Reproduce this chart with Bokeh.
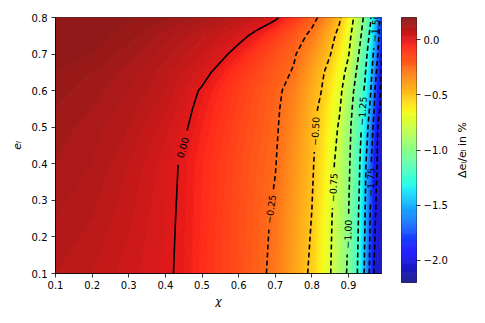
import math
import numpy as np
from bokeh.plotting import figure
from bokeh.plotting.contour import contour_data
from bokeh.models import ColumnDataSource, FixedTicker, Range1d, CustomJSTickFormatter
from bokeh.layouts import row
from bokeh.embed import file_html
from bokeh.resources import INLINE
from bokeh.core.properties import value

# ---------------- data ----------------
CHI = [0.1, 0.2, 0.3, 0.4, 0.45, 0.5, 0.55, 0.6, 0.65, 0.7, 0.75, 0.8, 0.825,
       0.85, 0.875, 0.9, 0.915, 0.93, 0.945, 0.96, 0.97, 0.98, 0.99]
E_L = [0.1, 0.25, 0.4, 0.5, 0.55, 0.6, 0.65, 0.7, 0.75, 0.8]

DE_E010 = [0.10, 0.08, 0.05, 0.015, -0.019, -0.068, -0.117, -0.166, -0.215, -0.283, -0.400, -0.530,
           -0.636, -0.742, -0.881, -1.033, -1.158, -1.309, -1.536, -1.813, -2.005, -2.052, -2.10]
DE_E025 = [0.12, 0.10, 0.065, 0.02, -0.016, -0.064, -0.113, -0.161, -0.209, -0.269, -0.386, -0.504,
           -0.614, -0.724, -0.858, -1.0, -1.134, -1.279, -1.5, -1.771, -1.979, -2.038, -2.08]
DE_E040 = [0.14, 0.12, 0.08, 0.03, -0.013, -0.059, -0.106, -0.152, -0.199, -0.245, -0.359, -0.481,
           -0.577, -0.691, -0.821, -0.970, -1.096, -1.240, -1.456, -1.714, -1.917, -2.023, -2.06]
DE_E050 = [0.15, 0.13, 0.10, 0.05, 0.012, -0.040, -0.088, -0.137, -0.185, -0.233, -0.334, -0.466,
           -0.551, -0.657, -0.771, -0.950, -1.067, -1.192, -1.368, -1.615, -1.813, -2.004, -2.04]
DE_E055 = [0.16, 0.14, 0.11, 0.065, 0.026, -0.028, -0.078, -0.127, -0.177, -0.227, -0.321, -0.453,
           -0.529, -0.631, -0.734, -0.919, -1.042, -1.167, -1.319, -1.542, -1.75, -1.958, -2.035]
DE_E060 = [0.17, 0.15, 0.12, 0.08, 0.04, -0.010, -0.063, -0.115, -0.167, -0.219, -0.302, -0.432,
           -0.497, -0.600, -0.704, -0.875, -1.009, -1.138, -1.278, -1.486, -1.705, -1.917, -2.03]
DE_E065 = [0.18, 0.16, 0.13, 0.09, 0.06, 0.03, -0.030, -0.086, -0.142, -0.198, -0.261, -0.400,
           -0.469, -0.560, -0.668, -0.806, -0.944, -1.087, -1.231, -1.431, -1.614, -1.841, -2.01]
DE_E070 = [0.19, 0.18, 0.15, 0.11, 0.085, 0.06, 0.025, -0.036, -0.101, -0.167, -0.233, -0.354,
           -0.424, -0.494, -0.615, -0.740, -0.875, -1.021, -1.177, -1.375, -1.542, -1.75, -2.0]
DE_E075 = [0.20, 0.19, 0.17, 0.13, 0.11, 0.085, 0.06, 0.03, -0.027, -0.107, -0.186, -0.282,
           -0.364, -0.445, -0.549, -0.701, -0.815, -0.954, -1.114, -1.300, -1.467, -1.682, -1.91]
DE_E080 = [0.195, 0.195, 0.185, 0.165, 0.15, 0.135, 0.115, 0.09, 0.06, 0.02, -0.091, -0.208,
           -0.277, -0.375, -0.473, -0.641, -0.759, -0.898, -1.048, -1.226, -1.404, -1.614, -1.84]

CONTOUR_LEVELS = [-2.0, -1.75, -1.5, -1.25, -1.0, -0.75, -0.5, -0.25, 0.0]
LABEL_LEVELS = [0.0, -0.25, -0.5, -0.75, -1.0, -1.25, -1.5, -1.75]
LABEL_E = [0.444, 0.276, 0.489, 0.335, 0.208, 0.544, 0.772, 0.349]

X_TICKS = [0.1, 0.2, 0.3, 0.4, 0.5, 0.6, 0.7, 0.8, 0.9]
Y_TICKS = [0.1, 0.2, 0.3, 0.4, 0.5, 0.6, 0.7, 0.8]
CB_TICKS = [0.0, -0.5, -1.0, -1.5, -2.0]
CB_LOW, CB_HIGH = -2.2, 0.2
X_RANGE = (0.1, 0.99)
Y_RANGE = (0.1, 0.8)
CB_TITLE = "\u0394e\u2097/e\u2097 in %"

Z = np.array([DE_E010, DE_E025, DE_E040, DE_E050, DE_E055, DE_E060, DE_E065, DE_E070,
              DE_E075, DE_E080])

# ---------------- style ----------------
FONT = "DejaVu Sans"
ALPHA = 0.9
FW, FH = 326, 256
LW = 1.6


def jet_hex(t):
    t = min(max(t, 0.0), 1.0)
    r = np.interp(t, [0, 0.35, 0.66, 0.89, 1], [0, 0, 1, 1, 0.5])
    g = np.interp(t, [0, 0.125, 0.375, 0.64, 0.91, 1], [0, 0, 1, 1, 0, 0])
    b = np.interp(t, [0, 0.11, 0.34, 0.65, 1], [0.5, 1, 1, 0, 0])
    return "#%02x%02x%02x" % tuple(int(round(255 * (1 - ALPHA) + 255 * ALPHA * c)) for c in (r, g, b))


def norm(v):
    return (v - CB_LOW) / (CB_HIGH - CB_LOW)


p = figure(frame_width=FW, frame_height=FH,
           x_range=Range1d(*X_RANGE), y_range=Range1d(*Y_RANGE),
           output_backend="svg", toolbar_location=None,
           min_border_left=55, min_border_right=12, min_border_top=17, min_border_bottom=48)
p.grid.visible = False
p.outline_line_color = "black"
p.outline_line_width = 0.8

# filled field
fill_levels = list(np.linspace(CB_LOW, CB_HIGH, 121))
cdf = contour_data(np.array(CHI), np.array(E_L), Z, levels=fill_levels, want_fill=True, want_line=False)
fd = cdf.fill_data
cols = [jet_hex(norm((lo + hi) / 2)) for lo, hi in zip(fd.lower_levels, fd.upper_levels)]
fsrc = ColumnDataSource(dict(xs=fd.xs, ys=fd.ys, c=cols))
p.multi_polygons(xs="xs", ys="ys", fill_color="c", line_color="c", line_width=0.8, source=fsrc)

# contour lines with label gaps
X0, X1 = X_RANGE
Y0, Y1 = Y_RANGE
sxk = FW / (X1 - X0)
syk = FH / (Y1 - Y0)
LABEL_FS = 9.5

cdl = contour_data(np.array(CHI), np.array(E_L), Z, levels=CONTOUR_LEVELS, want_fill=False, want_line=True)
ld = cdl.line_data
solid = dict(xs=[], ys=[])
dashed = dict(xs=[], ys=[])
labs = dict(x=[], y=[], text=[], angle=[])


def fmt(v):
    return ("\u2212" if v < 0 else "") + "%.2f" % abs(v)


for lev, lx, ly in zip(ld.levels, ld.xs, ld.ys):
    sx = (np.asarray(lx, dtype=float) - X0) * sxk
    sy = (np.asarray(ly, dtype=float) - Y0) * syk
    pieces, cur = [], []
    for a, b in zip(sx, sy):
        if np.isnan(a) or np.isnan(b):
            if len(cur) > 1:
                pieces.append(np.array(cur))
            cur = []
        else:
            cur.append((a, b))
    if len(cur) > 1:
        pieces.append(np.array(cur))
    dense = []
    for pc in pieces:
        pts = [pc[0]]
        for i in range(1, len(pc)):
            a, b = pc[i - 1], pc[i]
            n = max(1, int(math.ceil(math.hypot(*(b - a)) / 0.5)))
            for k in range(1, n + 1):
                pts.append(a + (b - a) * k / n)
        dense.append(np.array(pts))
    li = [i for i, L in enumerate(LABEL_LEVELS) if abs(L - lev) < 1e-9]
    if li:
        target = (LABEL_E[li[0]] - Y0) * syk
        center, d = None, None
        for pc in pieces:
            for i in range(1, len(pc)):
                a, b = pc[i - 1], pc[i]
                if (a[1] - target) * (b[1] - target) <= 0 and a[1] != b[1]:
                    t = (target - a[1]) / (b[1] - a[1])
                    center = a + t * (b - a)
                    d = b - a
                    break
            if center is not None:
                break
        if center is not None:
            ang = math.degrees(math.atan2(d[1], d[0]))
            while ang > 90:
                ang -= 180
            while ang <= -90:
                ang += 180
            txt = fmt(lev)
            half = len(txt) * 0.6 * LABEL_FS / 2 + 6
            for dp in dense:
                dist = np.hypot(dp[:, 0] - center[0], dp[:, 1] - center[1])
                dp[dist < half] = np.nan
            labs["x"].append(center[0] / sxk + X0)
            labs["y"].append(center[1] / syk + Y0)
            labs["text"].append(txt)
            labs["angle"].append(math.radians(ang))
    tgt = solid if abs(lev) < 1e-9 else dashed
    for dp in dense:
        tgt["xs"].append(list(dp[:, 0] / sxk + X0))
        tgt["ys"].append(list(dp[:, 1] / syk + Y0))

p.multi_line(xs="xs", ys="ys", source=ColumnDataSource(solid), line_color="black", line_width=LW)
p.multi_line(xs="xs", ys="ys", source=ColumnDataSource(dashed), line_color="black", line_width=LW,
             line_dash="5 3")
p.text(x="x", y="y", text="text", angle="angle", source=ColumnDataSource(labs),
       text_font=value(FONT), text_font_size=f"{LABEL_FS}px", text_align="center",
       text_baseline="middle", text_color="black")

p.xaxis.ticker = FixedTicker(ticks=X_TICKS)
p.yaxis.ticker = FixedTicker(ticks=Y_TICKS)
p.xaxis.axis_label = "\u03c7"
p.yaxis.axis_label = "e\u2097"
for ax in (p.xaxis[0], p.yaxis[0]):
    ax.major_label_text_font = FONT
    ax.major_label_text_font_size = "10px"
    ax.major_label_text_color = "black"
    ax.axis_label_text_font = FONT
    ax.axis_label_text_font_size = "11px"
    ax.axis_label_text_font_style = "italic"
    ax.axis_label_text_color = "black"
    ax.major_tick_out = 4
    ax.major_tick_in = 0
    ax.minor_tick_out = 0
    ax.minor_tick_in = 0
    ax.axis_line_width = 0.8
    ax.major_tick_line_width = 0.8
p.xaxis.major_label_standoff = 3
p.xaxis.axis_label_standoff = 3
p.yaxis.major_label_standoff = 4
p.yaxis.axis_label_standoff = 5

# ---------------- colour bar ----------------
cb = figure(frame_width=15, frame_height=265, x_range=Range1d(0, 1),
            y_range=Range1d(CB_LOW, CB_HIGH), y_axis_location="right",
            output_backend="svg", toolbar_location=None,
            min_border_left=8, min_border_right=36, min_border_top=12, min_border_bottom=44)
cb.grid.visible = False
cb.xaxis.visible = False
cb.outline_line_color = "black"
cb.outline_line_width = 0.8
edges = np.linspace(CB_LOW, CB_HIGH, 257)
ccols = [jet_hex(i / 255) for i in range(256)]
cb.quad(left=0, right=1, bottom=edges[:-1], top=edges[1:], fill_color=ccols, line_color=ccols,
        line_width=0.6)
ya = cb.yaxis[0]
ya.ticker = FixedTicker(ticks=CB_TICKS)
ya.formatter = CustomJSTickFormatter(code="return (tick < 0 ? '\\u2212' : '') + Math.abs(tick).toFixed(1)")
ya.major_label_text_font = FONT
ya.major_label_text_font_size = "10px"
ya.major_label_text_color = "black"
ya.major_tick_out = 4
ya.major_tick_in = 0
ya.minor_tick_out = 0
ya.minor_tick_in = 0
ya.axis_line_color = None
ya.major_tick_line_width = 0.8
ya.major_label_standoff = 3

# colour-bar title: a narrow companion figure whose left axis carries the label
tp = figure(frame_width=1, frame_height=265, x_range=Range1d(0, 1), y_range=Range1d(0, 1),
            output_backend="svg", toolbar_location=None,
            min_border_left=17, min_border_right=0, min_border_top=12, min_border_bottom=44)
tp.grid.visible = False
tp.xaxis.visible = False
tp.outline_line_color = None
ta = tp.yaxis[0]
ta.ticker = FixedTicker(ticks=[])
ta.axis_line_color = None
ta.major_tick_out = 0
ta.major_tick_in = 0
ta.minor_tick_out = 0
ta.minor_tick_in = 0
ta.major_label_standoff = 0
ta.axis_label = CB_TITLE
ta.axis_label_standoff = 1
ta.axis_label_text_font = FONT
ta.axis_label_text_font_size = "11px"
ta.axis_label_text_font_style = "normal"
ta.axis_label_text_color = "black"

layout = row(p, cb, tp)
open("out.html", "w").write(file_html(layout, INLINE))
